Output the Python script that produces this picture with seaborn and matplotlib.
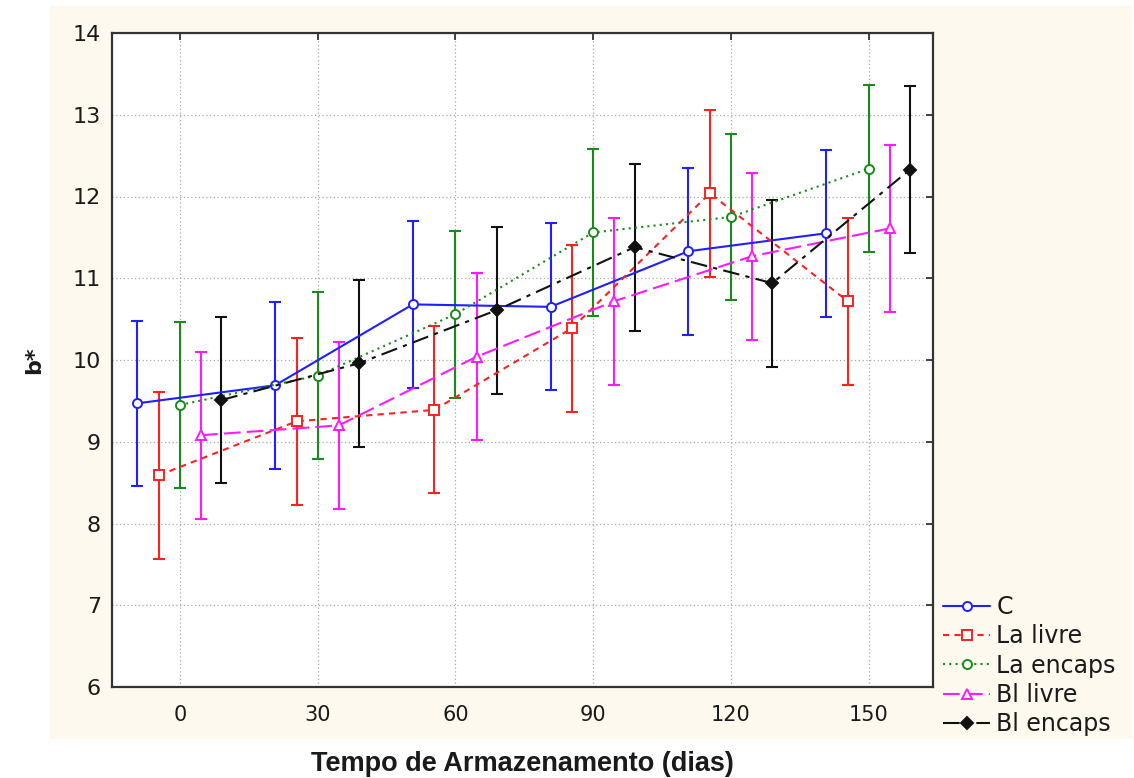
import matplotlib
matplotlib.use("Agg")
import matplotlib.pyplot as plt
import matplotlib.patches as mpatches
import seaborn as sns
import pandas as pd

# ---- data ----
days = [0, 30, 60, 90, 120, 150]
groups = ["C", "La livre", "La encaps", "Bl livre", "Bl encaps"]

c_mean = [9.47, 9.69, 10.68, 10.65, 11.33, 11.55]
c_err = [1.01, 1.02, 1.02, 1.02, 1.02, 1.02]

la_livre_mean = [8.59, 9.25, 9.39, 10.39, 12.04, 10.72]
la_livre_err = [1.02, 1.02, 1.02, 1.02, 1.02, 1.02]

la_encaps_mean = [9.45, 9.81, 10.56, 11.56, 11.75, 12.34]
la_encaps_err = [1.02, 1.02, 1.02, 1.02, 1.02, 1.02]

bl_livre_mean = [9.08, 9.20, 10.04, 10.72, 11.27, 11.61]
bl_livre_err = [1.02, 1.02, 1.02, 1.02, 1.02, 1.02]

bl_encaps_mean = [9.51, 9.96, 10.61, 11.38, 10.94, 12.33]
bl_encaps_err = [1.02, 1.02, 1.02, 1.02, 1.02, 1.02]

y_ticks = [6, 7, 8, 9, 10, 11, 12, 13, 14]

means = [c_mean, la_livre_mean, la_encaps_mean, bl_livre_mean, bl_encaps_mean]
errs = [c_err, la_livre_err, la_encaps_err, bl_livre_err, bl_encaps_err]

rows = []
for g, m, e in zip(groups, means, errs):
    for d, mv, ev in zip(days, m, e):
        rows.append({"group": g, "dia": d, "b": mv, "err": ev})
df = pd.DataFrame(rows)

# ---- styles ----
offsets = {"C": -9.3, "La livre": -4.6, "La encaps": 0.0, "Bl livre": 4.6, "Bl encaps": 9.0}
colors = {"C": "#1f1fff", "La livre": "#ff2020", "La encaps": "#1a8a1a",
          "Bl livre": "#ff19ff", "Bl encaps": "#111111"}
markers = {"C": "o", "La livre": "s", "La encaps": "o", "Bl livre": "^", "Bl encaps": "D"}
mfaces = {"C": "white", "La livre": "white", "La encaps": "white",
          "Bl livre": "white", "Bl encaps": "#111111"}
msizes = {"C": 6.5, "La livre": 6.5, "La encaps": 6.5, "Bl livre": 6.5, "Bl encaps": 6}
lstyles = {"C": "-", "La livre": (0, (3, 2.5)), "La encaps": (0, (1, 2)),
           "Bl livre": (0, (8, 3)), "Bl encaps": (0, (8, 3, 2, 3))}

df["xpos"] = df["dia"] + df["group"].map(offsets)

sns.set_style("white")
plt.rcParams["font.family"] = ["DejaVu Sans"]
plt.rcParams["text.color"] = "#1a1a1a"

fig = plt.figure(figsize=(11.34, 7.78), dpi=100, facecolor="white")
bg = mpatches.Rectangle((50 / 1134, 1 - 739 / 778), (1132 - 50) / 1134, (739 - 6) / 778,
                        transform=fig.transFigure, facecolor="#fdf9ef", edgecolor="none", zorder=-10)
fig.patches.append(bg)

ax = fig.add_axes([112 / 1134, 1 - 687 / 778, (933 - 112) / 1134, (687 - 33) / 778])
ax.set_facecolor("white")

for g in groups:
    sub = df[df["group"] == g]
    ax.errorbar(sub["xpos"], sub["b"], yerr=sub["err"], fmt="none",
                ecolor=colors[g], elinewidth=1.5, capsize=4.3, capthick=1.5, zorder=2)
    sns.lineplot(data=sub, x="xpos", y="b", ax=ax, color=colors[g], errorbar=None,
                 linewidth=1.5, linestyle=lstyles[g], marker=markers[g],
                 markersize=msizes[g], markerfacecolor=mfaces[g],
                 markeredgecolor=colors[g], markeredgewidth=1.4, label=g, zorder=3)

ax.set_xlim(-14.8, 164.0)
ax.set_ylim(6, 14)
ax.set_xticks(days)
ax.set_xticklabels([str(d) for d in days])
ax.set_yticks(y_ticks)
ax.set_yticklabels([str(t) for t in y_ticks])

ax.grid(True, color="#a8a8a8", linestyle=(0, (1, 2)), linewidth=0.9)
ax.set_axisbelow(True)

for sp in ax.spines.values():
    sp.set_visible(True)
    sp.set_color("#333333")
    sp.set_linewidth(1.6)

ax.tick_params(axis="both", direction="in", length=5, width=1.3, color="#333333",
               labelcolor="#1a1a1a", top=True, right=True, labeltop=False, labelright=False)
ax.tick_params(axis="y", labelsize=16, pad=8)
ax.tick_params(axis="x", labelsize=15, pad=13)

ax.set_xlabel("Tempo de Armazenamento (dias)", fontsize=19.5, fontweight="bold",
              family=["Liberation Sans", "DejaVu Sans"], color="#1a1a1a")
ax.xaxis.set_label_coords(0.5, (687 - 751) / 654)
ax.set_ylabel("b*", fontsize=16, fontweight="bold", color="#1a1a1a")
ax.yaxis.set_label_coords((44 - 112) / 821, 0.5)

ax.legend(loc="lower left", bbox_to_anchor=(943 / 1134, 1 - 736 / 778),
          bbox_transform=fig.transFigure, frameon=False, fontsize=17,
          borderpad=0, borderaxespad=0, handlelength=2.0, handletextpad=0.25,
          labelspacing=0.22)

fig.savefig("out.png", dpi=100, facecolor="white")
